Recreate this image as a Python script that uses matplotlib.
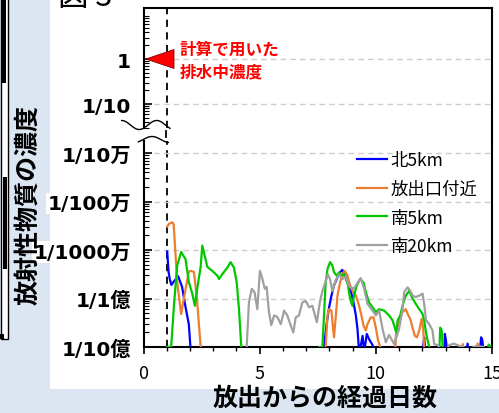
import numpy as np
import matplotlib.pyplot as plt
from matplotlib.patches import Rectangle, Polygon
from matplotlib.ticker import FixedLocator, LogLocator, MultipleLocator, NullFormatter

plt.rcParams['font.family'] = ['Noto Sans CJK JP', 'DejaVu Sans']

W, H = 499, 414

# days after release / log10 of concentration relative to the discharged water
# (-10 = below the plotted range)
north5_days = [1.02, 1.08, 1.13, 1.20, 1.29, 1.49, 1.66, 1.81, 1.95, 2.02, 2.08,
               7.70, 7.77, 7.89, 7.99, 8.09, 8.20, 8.35, 8.46, 8.56, 8.66, 8.78,
               8.92, 9.04, 9.14, 9.21, 9.28, 9.36, 9.43, 9.50, 9.61, 9.71, 9.86,
               9.93, 12.00, 12.04, 12.08, 12.13, 12.92, 12.97, 13.02, 13.07,
               13.90, 13.95, 14.00, 14.48, 14.53, 14.58, 14.64]
north5_log = [-7.03, -7.45, -7.60, -7.72, -7.66, -7.54, -7.76, -8.18, -8.53, -9.0, -10,
              -10, -9.0, -8.49, -8.18, -7.94, -7.73, -7.56, -7.46, -7.41, -7.53, -7.67,
              -7.84, -8.08, -8.35, -8.63, -9.1, -8.95, -8.77, -9.1, -8.73, -8.84, -8.96,
              -9.1, -10, -9.0, -8.80, -9.1, -10, -8.73, -8.87, -9.1,
              -9.1, -8.93, -9.1, -9.1, -8.80, -8.85, -9.1]

outlet_days = [1.02, 1.10, 1.24, 1.30, 1.45, 1.62, 1.76, 1.95, 2.02, 2.17, 2.30, 2.46, 2.52,
               7.78, 7.84, 7.92, 7.99, 8.09, 8.16, 8.20, 8.28, 8.35, 8.46, 8.56, 8.66,
               8.78, 8.89, 8.99, 9.14, 9.28, 9.38, 9.47, 9.57, 9.64, 9.78, 9.90, 10.00,
               10.10, 10.19, 10.25, 10.78, 10.86, 11.00, 11.15, 11.29, 11.37, 11.48,
               11.58, 11.68, 11.77, 11.87, 11.97, 12.04, 12.08, 12.14,
               13.68, 13.74, 13.80, 14.33, 14.38, 14.44]
outlet_log = [-6.52, -6.46, -6.43, -6.48, -7.66, -8.32, -7.94, -7.45, -7.43, -7.45, -8.00, -9.0, -10,
              -10, -9.0, -8.35, -8.22, -8.25, -8.63, -8.80, -8.35, -7.94, -7.67, -7.50, -7.43,
              -7.53, -7.73, -7.84, -7.94, -8.15, -8.35, -8.56, -8.66, -8.53, -8.39, -8.39, -8.60,
              -8.87, -9.0, -10, -10, -8.77, -8.45, -8.28, -8.22, -8.32, -8.42,
              -8.60, -8.77, -8.80, -8.66, -8.42, -8.63, -9.0, -10,
              -9.1, -8.94, -9.1, -9.1, -8.93, -9.1]

south5_days = [1.00, 1.19, 1.31, 1.45, 1.62, 1.81, 1.95, 2.10, 2.21, 2.31, 2.46, 2.53,
               2.63, 2.75, 2.96, 3.18, 3.25, 3.39, 3.61, 3.75, 3.89, 4.01, 4.11, 4.21, 4.27,
               7.50, 7.56, 7.70, 7.77, 7.84, 7.92, 8.03, 8.13, 8.20, 8.32, 8.42, 8.52,
               8.63, 8.78, 8.89, 8.99, 9.06, 9.18, 9.32, 9.47, 9.57, 9.71, 9.86, 10.00,
               10.14, 10.36, 10.57, 10.72, 10.79, 10.88, 10.94, 11.05, 11.15, 11.29,
               11.44, 11.58, 11.72, 11.87, 12.01, 12.08, 12.16, 12.23, 12.30, 12.36,
               12.70, 12.74, 12.77, 12.83, 12.88, 12.93, 14.80, 14.85, 14.95]
south5_log = [-9.0, -9.0, -8.15, -7.32, -7.04, -7.19, -7.66, -7.90, -8.15, -7.80, -7.35, -6.91,
              -7.11, -7.35, -7.43, -7.53, -7.60, -7.50, -7.36, -7.25, -7.36, -7.66, -8.22, -9.0, -10,
              -10, -9.0, -9.0, -8.35, -7.67, -7.39, -7.25, -7.32, -7.46, -7.53, -7.46, -7.53,
              -7.50, -7.67, -8.00, -8.15, -7.94, -7.73, -7.60, -7.67, -7.87, -8.08, -8.18, -8.28,
              -8.22, -8.25, -8.35, -8.45, -8.56, -8.70, -8.45, -8.35, -8.15, -7.94,
              -7.84, -8.00, -8.11, -8.22, -8.32, -8.45, -8.70, -8.87, -9.0, -10,
              -10, -9.0, -8.60, -8.65, -9.0, -10, -10, -8.95, -9.0]

south20_days = [4.38, 4.44, 4.54, 4.66, 4.78, 4.90, 5.01, 5.12, 5.22, 5.30, 5.40, 5.50,
                5.62, 5.76, 5.91, 6.05, 6.19, 6.34, 6.45, 6.55, 6.69, 6.84, 6.98, 7.13,
                7.27, 7.46, 7.60, 7.70, 7.84, 7.93, 8.03, 8.13, 8.28, 8.42, 8.56, 8.71,
                8.85, 9.04, 9.21, 9.35, 9.50, 9.64, 9.86, 10.00, 10.14, 10.29, 10.43,
                10.57, 10.79, 11.00, 11.15, 11.22, 11.37, 11.48, 11.58, 11.72, 11.87,
                12.01, 12.08, 12.16, 12.30, 12.44, 12.51, 12.66, 12.80, 13.00, 13.16,
                13.37, 13.50, 13.74, 14.00, 14.30, 14.66, 14.75]
south20_log = [-10, -9.0, -8.07, -7.80, -7.87, -8.22, -7.43, -7.60, -7.80, -7.76, -8.28, -8.55,
               -8.35, -8.38, -8.53, -8.25, -8.35, -8.56, -8.70, -8.39, -8.35, -8.08, -8.05, -8.18,
               -8.15, -8.49, -8.05, -7.85, -7.65, -7.50, -7.60, -7.85, -7.62, -7.50, -7.60, -7.55,
               -7.75, -7.80, -7.68, -7.58, -7.80, -8.11, -8.25, -8.35, -8.25, -8.63, -8.90,
               -8.75, -8.94, -8.63, -8.22, -7.87, -7.77, -7.84, -7.94, -7.97, -7.94,
               -7.90, -8.11, -8.45, -8.53, -8.66, -8.94, -8.96, -9.05, -9.10, -8.96,
               -8.93, -8.96, -9.0, -9.05, -8.98, -9.0, -10]

series = [
    ('北5km', north5_days, north5_log, '#0000ff'),
    ('放出口付近', outlet_days, outlet_log, '#ed7d31'),
    ('南5km', south5_days, south5_log, '#00c800'),
    ('南20km', south20_days, south20_log, '#a0a0a0'),
]

upper_ticks = [0.1, 1.0]
upper_labels = ['1/10', '1']
lower_ticks = [1e-9, 1e-8, 1e-7, 1e-6, 1e-5]
lower_labels = ['1/10億', '1/1億', '1/1000万', '1/100万', '1/10万']
day_ticks = [0, 5, 10, 15]
release_day = 1.0
calc_level = 1.0

tick_font = ['DejaVu Sans', 'Noto Sans CJK JP']


def px_box(x0, y0, x1, y1):
    # pixel edges (y from the top) -> figure fraction rect
    return [x0 / W, 1 - y1 / H, (x1 - x0) / W, (y1 - y0) / H]


fig = plt.figure(figsize=(W / 100, H / 100), dpi=100)
fig.patch.set_facecolor('#dce6f2')

# background panels in pixel coordinates
bg = fig.add_axes([0, 0, 1, 1], zorder=-5)
bg.set_xlim(0, W)
bg.set_ylim(H, 0)
bg.axis('off')
bg.add_patch(Rectangle((50, 0), W - 50, 390, facecolor='white', edgecolor='none'))
bg.add_patch(Rectangle((0.5, -2), 7.5, 342, facecolor='white', edgecolor='black', lw=1))
bg.add_patch(Rectangle((1.5, -2), 5, 86, facecolor='black', edgecolor='none'))
bg.add_patch(Rectangle((3, 178), 4, 92, facecolor='black', edgecolor='none'))
bg.add_patch(Rectangle((0, 335), 4, 5, facecolor='black', edgecolor='none'))

# broken log axis: upper part around 1, lower part 1e-9 .. 1e-5
ax_top = fig.add_axes(px_box(143.5, 9, 492, 129))
ax_bot = fig.add_axes(px_box(143.5, 142, 492, 348))

ax_top.set_yscale('log')
ax_top.set_ylim(10 ** (-(129 - 60) / 45), 10 ** ((60 - 9) / 45))
ax_bot.set_yscale('log')
ax_bot.set_ylim(1e-9, 10 ** (-5 + 12 / 48.5))

for ax in (ax_top, ax_bot):
    ax.set_xlim(0, 15)
    ax.set_facecolor('white')
    for sp in ax.spines.values():
        sp.set_linewidth(1.5)
    ax.yaxis.set_minor_locator(LogLocator(base=10, subs=np.arange(2, 10), numticks=30))
    ax.yaxis.set_minor_formatter(NullFormatter())
    ax.tick_params(axis='y', which='major', direction='in', length=6, width=1.2, pad=9)
    ax.tick_params(axis='y', which='minor', direction='in', length=3.5, width=0.8)
    ax.yaxis.grid(True, which='major', color='#cccccc', ls=(0, (4, 3)), lw=1)
    ax.axvline(release_day, color='black', ls=(0, (4, 3)), lw=1.3, zorder=1.5)

ax_top.spines['bottom'].set_visible(False)
ax_bot.spines['top'].set_visible(False)

ax_top.yaxis.set_major_locator(FixedLocator(upper_ticks))
ax_top.set_yticklabels(upper_labels)
ax_top.tick_params(axis='x', which='both', bottom=False, labelbottom=False)

ax_bot.yaxis.set_major_locator(FixedLocator(lower_ticks))
ax_bot.set_yticklabels(lower_labels)

for ax in (ax_top, ax_bot):
    for lab in ax.get_yticklabels():
        lab.set_fontfamily(tick_font)
        lab.set_fontsize(14.5)
        lab.set_fontweight('bold')
for lab in ax_bot.get_yticklabels():
    lab.set_bbox(dict(facecolor='white', edgecolor='none', pad=1))

ax_bot.xaxis.set_major_locator(FixedLocator(day_ticks))
ax_bot.xaxis.set_minor_locator(MultipleLocator(1))
ax_bot.tick_params(axis='x', which='major', direction='out', length=5, width=1.2,
                   pad=7, labelsize=13)
ax_bot.tick_params(axis='x', which='minor', direction='out', length=3, width=1)

handles = []
for name, days, logc, color in series:
    conc = 10.0 ** np.asarray(logc)
    ln, = ax_bot.plot(days, conc, color=color, lw=1.6, label=name, zorder=3)
    handles.append(ln)

ax_bot.legend(handles=handles, loc='upper left', bbox_to_anchor=(357 / W, 1 - 152 / H),
              bbox_transform=fig.transFigure, frameon=False, fontsize=12.5,
              handlelength=1.75, handletextpad=0.2, labelspacing=0.62,
              borderpad=0, borderaxespad=0)

# overlay for the break marks, annotation and titles (pixel coordinates)
fg = fig.add_axes([0, 0, 1, 1], zorder=10)
fg.set_xlim(0, W)
fg.set_ylim(H, 0)
fg.axis('off')

xw = np.linspace(121.7, 170, 60)
fg.plot(xw, 126 - 4.5 * np.cos(2 * np.pi * (xw - 121.7) / 35), color='black', lw=1)
xl = np.linspace(138.3, 168.3, 40)
fg.plot(xl, 140.5 - 3 * np.cos(2 * np.pi * (xl - 152) / 35), color='black', lw=1)
fg.plot([166.5, 166.5], [132, 138], color='black', lw=1.3)
fg.plot([492, 492], [129, 142], color='black', lw=1.5)

# marker for the concentration used in the calculation
yp = H - ax_top.transData.transform((0, calc_level))[1]
fg.add_patch(Polygon([(146, yp), (174, yp - 9.5), (174, yp + 9.5)], closed=True,
                     facecolor='#ff0000', edgecolor='#800000', lw=0.6))
fg.text(180, 50, '計算で用いた', color='#ff0000', fontsize=12, fontweight='bold',
        ha='left', va='center')
fg.text(180, 72, '排水中濃度', color='#ff0000', fontsize=12, fontweight='bold',
        ha='left', va='center')

fg.text(58, 6, '図 3', fontsize=22, ha='left', va='baseline')
fg.text(28, 205, '放射性物質の濃度', rotation=90, fontsize=18, fontweight='bold',
        ha='center', va='center')
fg.text(325, 399, '放出からの経過日数', fontsize=18, fontweight='bold',
        ha='center', va='center')

fig.savefig('out.png', dpi=100, facecolor=fig.get_facecolor())
